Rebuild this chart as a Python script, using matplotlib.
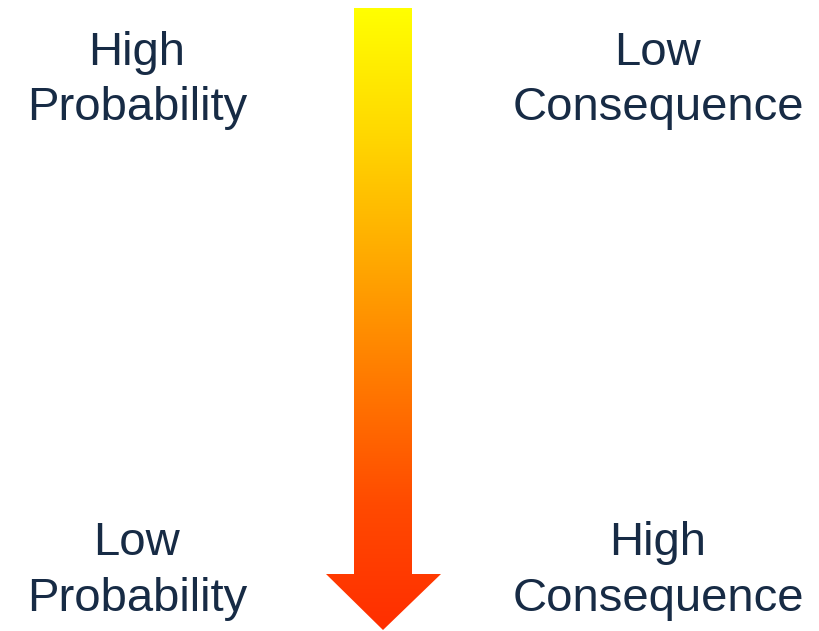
import numpy as np
import matplotlib.pyplot as plt
from matplotlib.patches import Polygon
from matplotlib.colors import LinearSegmentedColormap

# labels: (text, x centre, y centre) in pixel space
left_labels = ['High', 'Probability', 'Low', 'Probability']
right_labels = ['Low', 'Consequence', 'High', 'Consequence']
label_rows = [53, 108, 543, 599]
left_x = 137
right_x = 658

# arrow gradient colours, top to bottom
grad_colors = ['#FFFF00', '#FFD800', '#FFAA00', '#FF7A00', '#FF4A00', '#FF2E00']

# arrow outline
shaft_left, shaft_right = 354, 412
arrow_top = 8
head_y, head_left, head_right = 574, 326, 441
tip_x, tip_y = 383, 630

fig = plt.figure(figsize=(8.20, 6.31), dpi=100)
ax = fig.add_axes([0, 0, 1, 1])
ax.set_xlim(0, 820)
ax.set_ylim(631, 0)
ax.axis('off')

cmap = LinearSegmentedColormap.from_list('arrow', grad_colors)
grad = np.linspace(0, 1, 256).reshape(-1, 1)
img = ax.imshow(grad, cmap=cmap, aspect='auto',
                extent=[head_left, head_right, tip_y, arrow_top], interpolation='bilinear')
poly = Polygon([(shaft_left, arrow_top), (shaft_right, arrow_top), (shaft_right, head_y),
                (head_right, head_y), (tip_x, tip_y), (head_left, head_y),
                (shaft_left, head_y)], closed=True, facecolor='none', edgecolor='none')
ax.add_patch(poly)
img.set_clip_path(poly)

txt_color = '#172B45'
for lab, y in zip(left_labels, label_rows):
    ax.text(left_x, y, lab, ha='center', va='center', fontsize=34,
            family='Liberation Sans', color=txt_color)
for lab, y in zip(right_labels, label_rows):
    ax.text(right_x, y, lab, ha='center', va='center', fontsize=34,
            family='Liberation Sans', color=txt_color)

fig.savefig('out.png', dpi=100, facecolor='white')
